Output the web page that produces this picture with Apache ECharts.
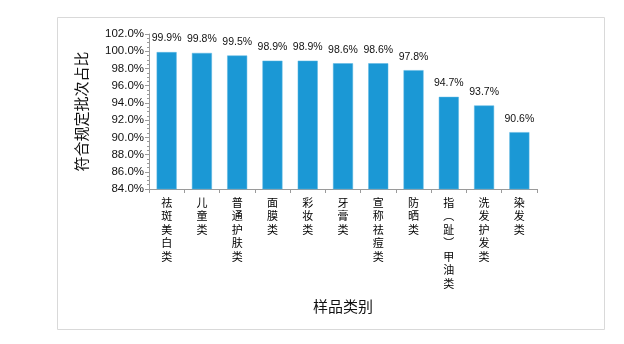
<!DOCTYPE html>
<html><head><meta charset="utf-8">
<script src="https://cdn.jsdelivr.net/npm/echarts@6/dist/echarts.min.js"></script>
<style>html,body{margin:0;padding:0;background:#fff}#c{width:624px;height:344px}</style>
</head><body><div id="c"></div>
<script>
var categories = ['祛斑美白类','儿童类','普通护肤类','面膜类','彩妆类','牙膏类','宣称祛痘类','防晒类','指︵趾︶甲油类','洗发护发类','染发类'];
var values = [99.9, 99.8, 99.5, 98.9, 98.9, 98.6, 98.6, 97.8, 94.7, 93.7, 90.6];
var yTicks = [84, 86, 88, 90, 92, 94, 96, 98, 100, 102];
var yName = '符合规定批次占比';
var xName = '样品类别';

var chart = echarts.init(document.getElementById('c'), null, {renderer:'canvas'});
var font = '"Noto Sans CJK SC", "Liberation Sans", sans-serif';
chart.setOption({
  animation: false,
  textStyle: {fontFamily: font},
  graphic: [{type:'rect', shape:{x:57.5, y:17.5, width:547, height:312}, style:{fill:'none', stroke:'#d9d9d9', lineWidth:1}, silent:true}],
  grid: {left:149, top:34, right:87, bottom:155},
  xAxis: {
    type:'category', data: categories,
    name: xName, nameLocation:'middle', nameGap:110,
    nameTextStyle:{fontSize:15, color:'#111', fontFamily:font},
    axisLine:{lineStyle:{color:'#9a9a9a'}},
    axisTick:{show:true, length:4, lineStyle:{color:'#9a9a9a'}},
    axisLabel:{
      interval:0, color:'#000', fontSize:11, lineHeight:13.5, margin:7, fontFamily:font,
      verticalAlign:'top',
      formatter: function(v){ return v.split('').join('\n'); }
    }
  },
  yAxis: {
    type:'value', min: yTicks[0], max: yTicks[yTicks.length-1], interval: 2,
    name: yName, nameLocation:'middle', nameGap:60, nameRotate:90,
    nameTextStyle:{fontSize:15, color:'#111', fontFamily:font},
    axisLine:{show:true, lineStyle:{color:'#9a9a9a'}},
    axisTick:{show:true, length:4, lineStyle:{color:'#9a9a9a'}},
    minorTick:{show:true, splitNumber:4, length:2, lineStyle:{color:'#9a9a9a'}},
    splitLine:{show:false},
    axisLabel:{color:'#111', fontSize:11.5, margin:5, fontFamily:'"Liberation Sans", sans-serif',
      formatter:function(v){return v.toFixed(1)+'%';}}
  },
  series: [{
    type:'bar', data: values, barWidth: 20,
    itemStyle:{color:'#1b98d5', borderColor:'#5bb6e3', borderWidth:0.5},
    label:{show:true, position:'top', distance:8, color:'#111', fontSize:10.5,
      fontFamily:'"Liberation Sans", sans-serif',
      formatter:function(p){return p.value.toFixed(1)+'%';}}
  }]
});
</script></body></html>
